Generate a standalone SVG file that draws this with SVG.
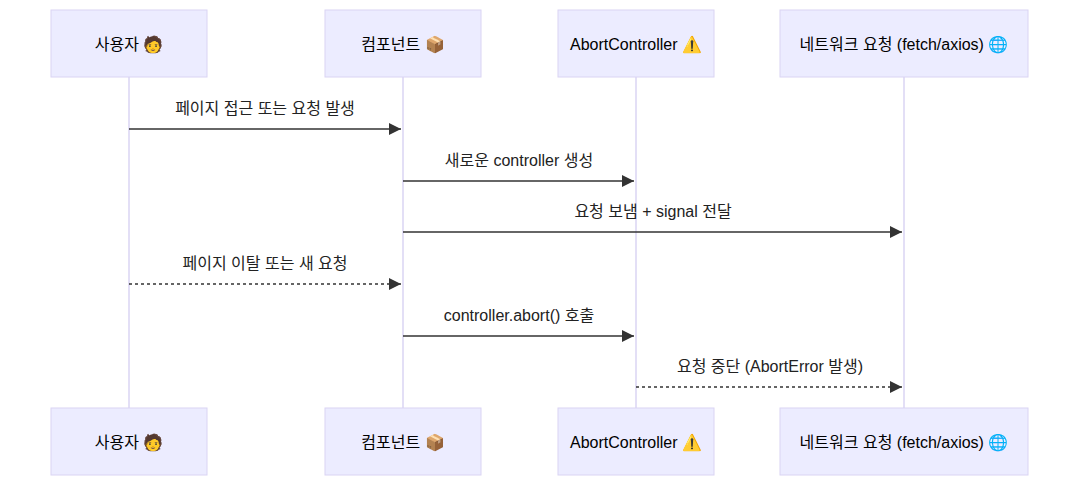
<svg xmlns="http://www.w3.org/2000/svg" width="1080" height="487" viewBox="0 0 1080 487">
<style>
.actor{fill:#ECECFF;stroke:#DAD4F3;stroke-width:1}
.at{font-family:"Liberation Sans","Noto Sans CJK KR",sans-serif;font-size:16px;fill:#000;text-anchor:middle;dominant-baseline:central}
.life{stroke:#DAD4F3;stroke-width:1.5}
.msg{stroke:#333;stroke-width:1.5;fill:none}
.dash{stroke-dasharray:3,3}
.ml{font-family:"Liberation Sans","Noto Sans CJK KR",sans-serif;font-size:16px;fill:#222;text-anchor:middle}
</style>
<defs>
<marker id="ah" viewBox="0 0 10 10" refX="10" refY="5" markerWidth="8" markerHeight="8" orient="auto"><path d="M0,0 L10,5 L0,10 z" fill="#333"/></marker>
</defs>
<rect width="1080" height="487" fill="#fff"/>
<g id="lifelines">
<line class="life" x1="129" y1="77" x2="129" y2="408"/>
<line class="life" x1="403" y1="77" x2="403" y2="408"/>
<line class="life" x1="636" y1="77" x2="636" y2="408"/>
<line class="life" x1="904" y1="77" x2="904" y2="408"/>
</g>
<g id="user"><rect class="actor" x="51" y="10" width="156" height="67"/><text class="at" x="129" y="44">사용자 🧑</text>
<rect class="actor" x="51" y="408" width="156" height="67"/><text class="at" x="129" y="442">사용자 🧑</text></g>
<g id="component"><rect class="actor" x="325" y="10" width="156" height="67"/><text class="at" x="403" y="44">컴포넌트 📦</text>
<rect class="actor" x="325" y="408" width="156" height="67"/><text class="at" x="403" y="442">컴포넌트 📦</text></g>
<g id="abort"><rect class="actor" x="558" y="10" width="156" height="67"/><text class="at" x="636" y="44">AbortController ⚠️</text>
<rect class="actor" x="558" y="408" width="156" height="67"/><text class="at" x="636" y="442">AbortController ⚠️</text></g>
<g id="network"><rect class="actor" x="780" y="10" width="248" height="67"/><text class="at" x="904" y="44">네트워크 요청 (fetch/axios) 🌐</text>
<rect class="actor" x="780" y="408" width="248" height="67"/><text class="at" x="904" y="442">네트워크 요청 (fetch/axios) 🌐</text></g>
<g id="connectors">
<line class="msg" x1="129" y1="129" x2="401" y2="129" marker-end="url(#ah)"/>
<text class="ml" x="265" y="114">페이지 접근 또는 요청 발생</text>
<line class="msg" x1="403" y1="181" x2="634" y2="181" marker-end="url(#ah)"/>
<text class="ml" x="519" y="166">새로운 controller 생성</text>
<line class="msg" x1="403" y1="232" x2="902" y2="232" marker-end="url(#ah)"/>
<text class="ml" x="653" y="217">요청 보냄 + signal 전달</text>
<line class="msg dash" x1="129" y1="284" x2="401" y2="284" marker-end="url(#ah)"/>
<text class="ml" x="265" y="269">페이지 이탈 또는 새 요청</text>
<line class="msg" x1="403" y1="336" x2="634" y2="336" marker-end="url(#ah)"/>
<text class="ml" x="519" y="321">controller.abort() 호출</text>
<line class="msg dash" x1="636" y1="387" x2="902" y2="387" marker-end="url(#ah)"/>
<text class="ml" x="770" y="372">요청 중단 (AbortError 발생)</text>
</g>
</svg>
